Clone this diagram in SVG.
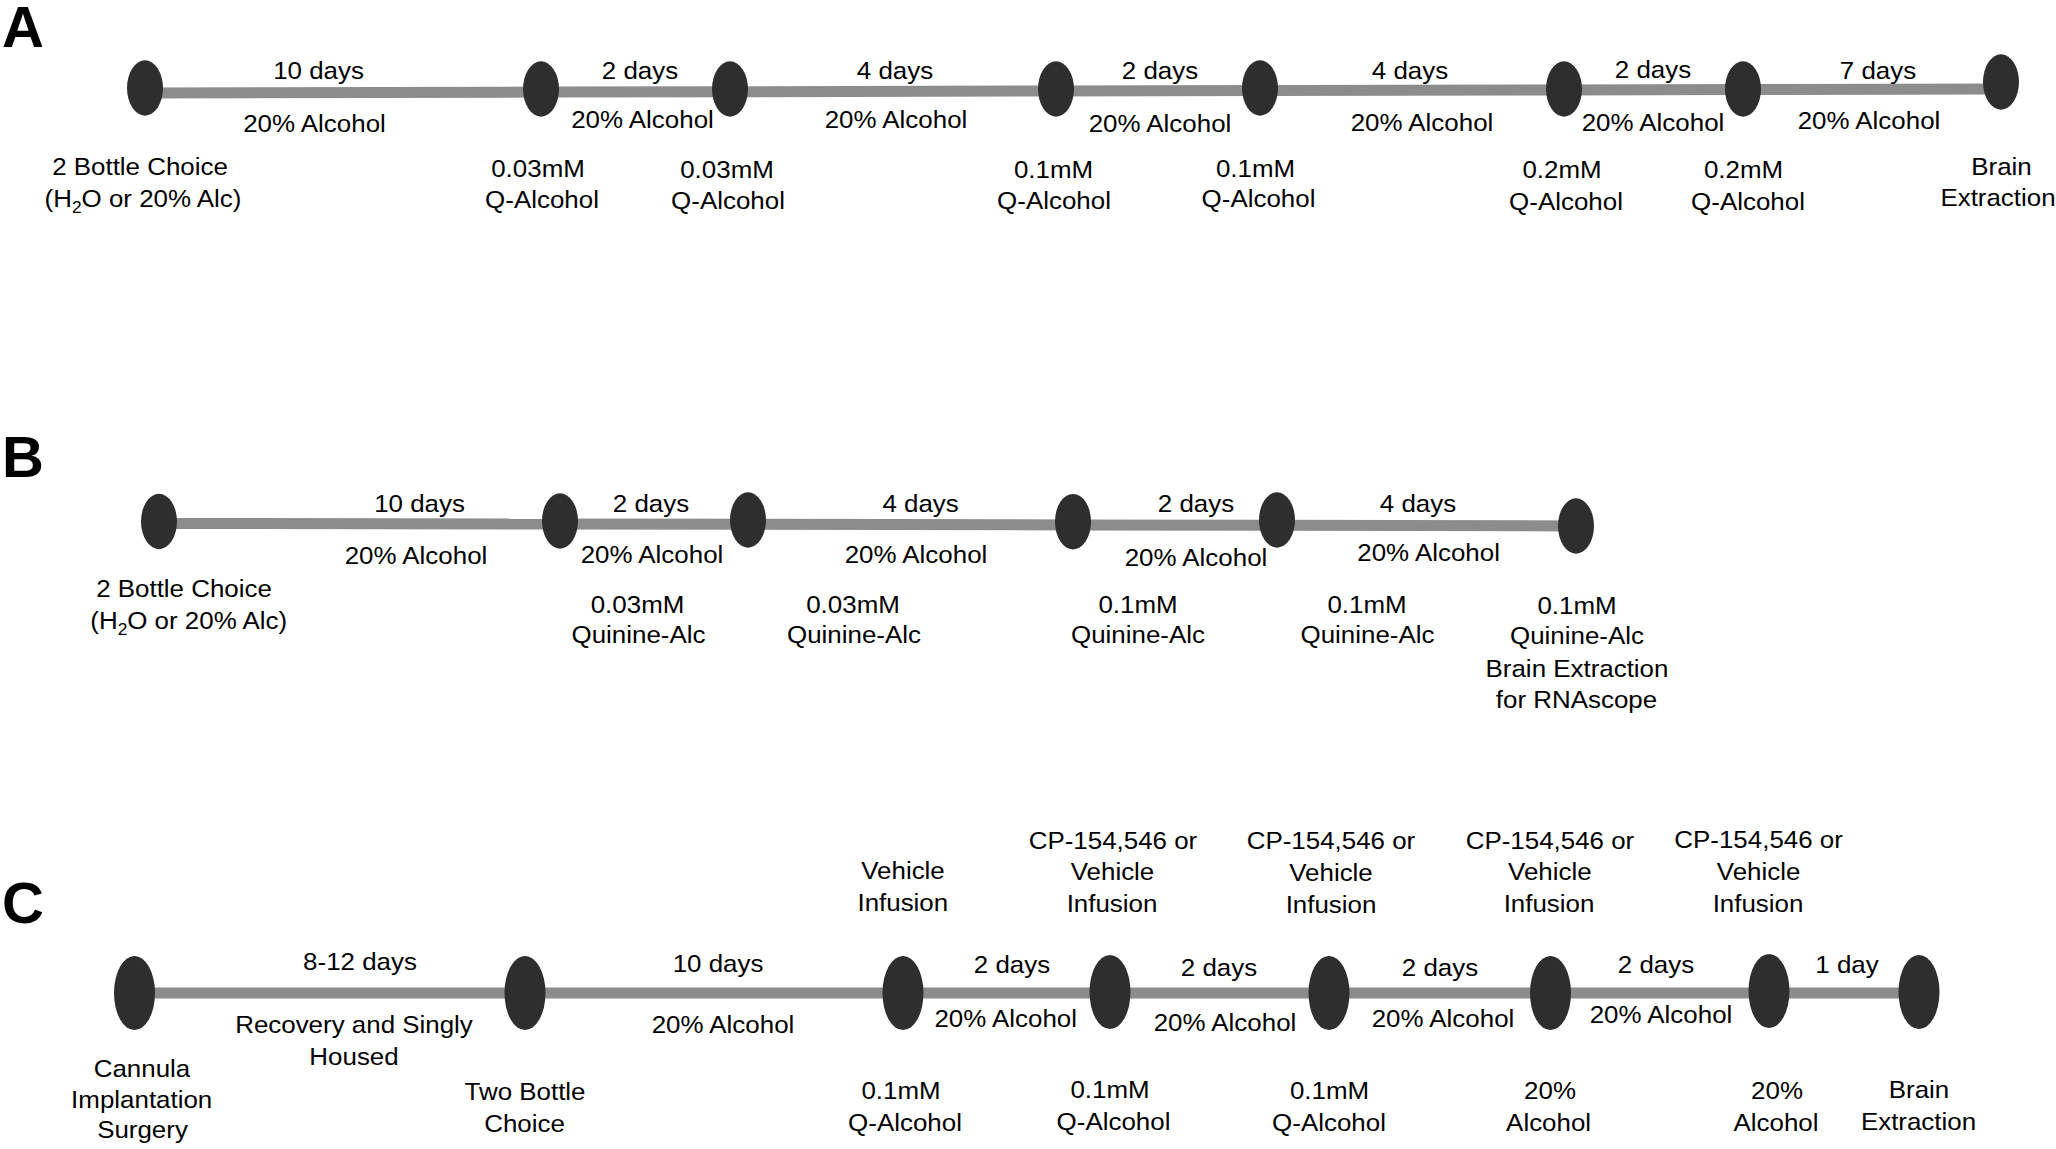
<svg xmlns="http://www.w3.org/2000/svg" width="2056" height="1149" viewBox="0 0 2056 1149">
<style>
.t{font-family:"Liberation Sans",Arial,Helvetica,sans-serif;font-size:24px;fill:#000;text-anchor:middle}
.sub{font-size:16px}
.lbl{font-family:"Liberation Sans",Arial,Helvetica,sans-serif;font-size:58px;font-weight:bold;fill:#000}
.n{fill:#2e2e2e}
.e{stroke:#8c8c8c;stroke-width:11;fill:none}
</style>
<rect width="2056" height="1149" fill="#fff"/>
<text class="lbl" x="2" y="47">A</text>
<text class="lbl" x="2" y="477">B</text>
<text class="lbl" x="2" y="923">C</text>

<g id="connectors">
<g id="edgesA">
<line class="e" x1="145" y1="93" x2="541" y2="92.1"/>
<line class="e" x1="541" y1="92.1" x2="730" y2="91.7"/>
<line class="e" x1="730" y1="91.7" x2="1056" y2="91"/>
<line class="e" x1="1056" y1="91" x2="1260" y2="90.6"/>
<line class="e" x1="1260" y1="90.6" x2="1564" y2="89.9"/>
<line class="e" x1="1564" y1="89.9" x2="1743" y2="89.6"/>
<line class="e" x1="1743" y1="89.6" x2="2001" y2="89"/>
</g>
<g id="edgesB">
<line class="e" x1="159" y1="523.5" x2="560" y2="524"/>
<line class="e" x1="560" y1="524" x2="748" y2="524.2"/>
<line class="e" x1="748" y1="524.2" x2="1073" y2="524.9"/>
<line class="e" x1="1073" y1="524.9" x2="1277" y2="525.2"/>
<line class="e" x1="1277" y1="525.2" x2="1576" y2="526"/>
</g>
<g id="edgesC">
<line class="e" x1="134.5" y1="993" x2="525" y2="993"/>
<line class="e" x1="525" y1="993" x2="903" y2="993"/>
<line class="e" x1="903" y1="993" x2="1110" y2="993"/>
<line class="e" x1="1110" y1="993" x2="1329" y2="993"/>
<line class="e" x1="1329" y1="993" x2="1550.5" y2="993"/>
<line class="e" x1="1550.5" y1="993" x2="1769" y2="993"/>
<line class="e" x1="1769" y1="993" x2="1919" y2="993"/>
</g>
</g>

<g id="edgeLabels">
<text class="t" transform="translate(318.5 79) scale(1.08 1)">10 days</text>
<text class="t" transform="translate(640 79) scale(1.08 1)">2 days</text>
<text class="t" transform="translate(895 79) scale(1.08 1)">4 days</text>
<text class="t" transform="translate(1160 79) scale(1.08 1)">2 days</text>
<text class="t" transform="translate(1410 79) scale(1.08 1)">4 days</text>
<text class="t" transform="translate(1653 78) scale(1.08 1)">2 days</text>
<text class="t" transform="translate(1878 79) scale(1.08 1)">7 days</text>
<text class="t" transform="translate(314.5 132) scale(1.08 1)">20% Alcohol</text>
<text class="t" transform="translate(642.5 128) scale(1.08 1)">20% Alcohol</text>
<text class="t" transform="translate(896 128) scale(1.08 1)">20% Alcohol</text>
<text class="t" transform="translate(1160 132) scale(1.08 1)">20% Alcohol</text>
<text class="t" transform="translate(1422 131) scale(1.08 1)">20% Alcohol</text>
<text class="t" transform="translate(1653 131) scale(1.08 1)">20% Alcohol</text>
<text class="t" transform="translate(1869 129) scale(1.08 1)">20% Alcohol</text>

<text class="t" transform="translate(419.5 512) scale(1.08 1)">10 days</text>
<text class="t" transform="translate(651 512) scale(1.08 1)">2 days</text>
<text class="t" transform="translate(920.6 512) scale(1.08 1)">4 days</text>
<text class="t" transform="translate(1196 512) scale(1.08 1)">2 days</text>
<text class="t" transform="translate(1418 512) scale(1.08 1)">4 days</text>
<text class="t" transform="translate(416 564) scale(1.08 1)">20% Alcohol</text>
<text class="t" transform="translate(652 563) scale(1.08 1)">20% Alcohol</text>
<text class="t" transform="translate(916 563) scale(1.08 1)">20% Alcohol</text>
<text class="t" transform="translate(1196 566) scale(1.08 1)">20% Alcohol</text>
<text class="t" transform="translate(1428.6 561) scale(1.08 1)">20% Alcohol</text>

<text class="t" transform="translate(360 969.5) scale(1.08 1)">8-12 days</text>
<text class="t" transform="translate(718 971.5) scale(1.08 1)">10 days</text>
<text class="t" transform="translate(1012 972.7) scale(1.08 1)">2 days</text>
<text class="t" transform="translate(1219 976) scale(1.08 1)">2 days</text>
<text class="t" transform="translate(1440 976) scale(1.08 1)">2 days</text>
<text class="t" transform="translate(1656 973) scale(1.08 1)">2 days</text>
<text class="t" transform="translate(1847 973) scale(1.08 1)">1 day</text>
<text class="t" transform="translate(354 1032.7) scale(1.08 1)">Recovery and Singly</text>
<text class="t" transform="translate(354 1065) scale(1.08 1)">Housed</text>
<text class="t" transform="translate(723 1033) scale(1.08 1)">20% Alcohol</text>
<text class="t" transform="translate(1005.7 1026.7) scale(1.08 1)">20% Alcohol</text>
<text class="t" transform="translate(1225 1031) scale(1.08 1)">20% Alcohol</text>
<text class="t" transform="translate(1443 1026.7) scale(1.08 1)">20% Alcohol</text>
<text class="t" transform="translate(1661 1023) scale(1.08 1)">20% Alcohol</text>
</g>

<g id="A1"><ellipse class="n" cx="145" cy="88" rx="18" ry="27.7"/>
<text class="t" transform="translate(140 175) scale(1.08 1)">2 Bottle Choice</text>
<text class="t" transform="translate(143 207) scale(1.08 1)">(H<tspan class="sub" dy="6">2</tspan><tspan dy="-6">O or 20% Alc)</tspan></text></g>
<g id="A2"><ellipse class="n" cx="541" cy="89" rx="18" ry="27.7"/>
<text class="t" transform="translate(538 177) scale(1.08 1)">0.03mM</text>
<text class="t" transform="translate(542 208) scale(1.08 1)">Q-Alcohol</text></g>
<g id="A3"><ellipse class="n" cx="730" cy="89" rx="18" ry="27.7"/>
<text class="t" transform="translate(727 178) scale(1.08 1)">0.03mM</text>
<text class="t" transform="translate(728 209) scale(1.08 1)">Q-Alcohol</text></g>
<g id="A4"><ellipse class="n" cx="1056" cy="89" rx="18" ry="27.7"/>
<text class="t" transform="translate(1053.5 178) scale(1.08 1)">0.1mM</text>
<text class="t" transform="translate(1054 209) scale(1.08 1)">Q-Alcohol</text></g>
<g id="A5"><ellipse class="n" cx="1260" cy="88" rx="18" ry="27.7"/>
<text class="t" transform="translate(1255.5 177) scale(1.08 1)">0.1mM</text>
<text class="t" transform="translate(1258.5 207) scale(1.08 1)">Q-Alcohol</text></g>
<g id="A6"><ellipse class="n" cx="1564" cy="89" rx="18" ry="27.7"/>
<text class="t" transform="translate(1562 178) scale(1.08 1)">0.2mM</text>
<text class="t" transform="translate(1566 210) scale(1.08 1)">Q-Alcohol</text></g>
<g id="A7"><ellipse class="n" cx="1743" cy="89" rx="18" ry="27.7"/>
<text class="t" transform="translate(1743.5 178) scale(1.08 1)">0.2mM</text>
<text class="t" transform="translate(1748 210) scale(1.08 1)">Q-Alcohol</text></g>
<g id="A8"><ellipse class="n" cx="2001" cy="82" rx="18" ry="27.7"/>
<text class="t" transform="translate(2001.5 175) scale(1.08 1)">Brain</text>
<text class="t" transform="translate(1998 206) scale(1.08 1)">Extraction</text></g>

<g id="B1"><ellipse class="n" cx="159" cy="521.5" rx="18" ry="27.7"/>
<text class="t" transform="translate(184 597) scale(1.08 1)">2 Bottle Choice</text>
<text class="t" transform="translate(188.7 629) scale(1.08 1)">(H<tspan class="sub" dy="6">2</tspan><tspan dy="-6">O or 20% Alc)</tspan></text></g>
<g id="B2"><ellipse class="n" cx="560" cy="521" rx="18" ry="27.7"/>
<text class="t" transform="translate(637.5 613) scale(1.08 1)">0.03mM</text>
<text class="t" transform="translate(638.5 643) scale(1.08 1)">Quinine-Alc</text></g>
<g id="B3"><ellipse class="n" cx="748" cy="520" rx="18" ry="27.7"/>
<text class="t" transform="translate(853 613) scale(1.08 1)">0.03mM</text>
<text class="t" transform="translate(854 643) scale(1.08 1)">Quinine-Alc</text></g>
<g id="B4"><ellipse class="n" cx="1073" cy="521.7" rx="18" ry="27.7"/>
<text class="t" transform="translate(1138 613) scale(1.08 1)">0.1mM</text>
<text class="t" transform="translate(1138 643) scale(1.08 1)">Quinine-Alc</text></g>
<g id="B5"><ellipse class="n" cx="1277" cy="520" rx="18" ry="27.7"/>
<text class="t" transform="translate(1367 613) scale(1.08 1)">0.1mM</text>
<text class="t" transform="translate(1367.5 643) scale(1.08 1)">Quinine-Alc</text></g>
<g id="B6"><ellipse class="n" cx="1576" cy="526" rx="18" ry="27.7"/>
<text class="t" transform="translate(1577 614) scale(1.08 1)">0.1mM</text>
<text class="t" transform="translate(1577 644) scale(1.08 1)">Quinine-Alc</text>
<text class="t" transform="translate(1577 677) scale(1.08 1)">Brain Extraction</text>
<text class="t" transform="translate(1576.5 708) scale(1.08 1)">for RNAscope</text></g>

<g id="C1"><ellipse class="n" cx="134.5" cy="993" rx="20.5" ry="37"/>
<text class="t" transform="translate(142 1076.7) scale(1.08 1)">Cannula</text>
<text class="t" transform="translate(141.7 1108.3) scale(1.08 1)">Implantation</text>
<text class="t" transform="translate(142.5 1138.3) scale(1.08 1)">Surgery</text></g>
<g id="C2"><ellipse class="n" cx="525" cy="993" rx="20.5" ry="37"/>
<text class="t" transform="translate(525 1100) scale(1.08 1)">Two Bottle</text>
<text class="t" transform="translate(524.5 1131.7) scale(1.08 1)">Choice</text></g>
<g id="C3"><ellipse class="n" cx="903" cy="993" rx="20.5" ry="37"/>
<text class="t" transform="translate(903 879) scale(1.08 1)">Vehicle</text>
<text class="t" transform="translate(902.8 910.7) scale(1.08 1)">Infusion</text>
<text class="t" transform="translate(901 1099.3) scale(1.08 1)">0.1mM</text>
<text class="t" transform="translate(905 1131) scale(1.08 1)">Q-Alcohol</text></g>
<g id="C4"><ellipse class="n" cx="1110" cy="992" rx="20.5" ry="37"/>
<text class="t" transform="translate(1113 849) scale(1.08 1)">CP-154,546 or</text>
<text class="t" transform="translate(1112.5 880) scale(1.08 1)">Vehicle</text>
<text class="t" transform="translate(1112 911.7) scale(1.08 1)">Infusion</text>
<text class="t" transform="translate(1110 1098) scale(1.08 1)">0.1mM</text>
<text class="t" transform="translate(1113.5 1130) scale(1.08 1)">Q-Alcohol</text></g>
<g id="C5"><ellipse class="n" cx="1329" cy="993" rx="20.5" ry="37"/>
<text class="t" transform="translate(1331 849.3) scale(1.08 1)">CP-154,546 or</text>
<text class="t" transform="translate(1331 881) scale(1.08 1)">Vehicle</text>
<text class="t" transform="translate(1331 912.7) scale(1.08 1)">Infusion</text>
<text class="t" transform="translate(1329.5 1099) scale(1.08 1)">0.1mM</text>
<text class="t" transform="translate(1329 1131) scale(1.08 1)">Q-Alcohol</text></g>
<g id="C6"><ellipse class="n" cx="1550.5" cy="993" rx="20.5" ry="37"/>
<text class="t" transform="translate(1550 849) scale(1.08 1)">CP-154,546 or</text>
<text class="t" transform="translate(1549.8 880) scale(1.08 1)">Vehicle</text>
<text class="t" transform="translate(1549 911.7) scale(1.08 1)">Infusion</text>
<text class="t" transform="translate(1550 1099) scale(1.08 1)">20%</text>
<text class="t" transform="translate(1548.6 1131) scale(1.08 1)">Alcohol</text></g>
<g id="C7"><ellipse class="n" cx="1769" cy="991" rx="20.5" ry="37"/>
<text class="t" transform="translate(1758.6 848) scale(1.08 1)">CP-154,546 or</text>
<text class="t" transform="translate(1758.6 880) scale(1.08 1)">Vehicle</text>
<text class="t" transform="translate(1758 911.7) scale(1.08 1)">Infusion</text>
<text class="t" transform="translate(1777 1099) scale(1.08 1)">20%</text>
<text class="t" transform="translate(1776 1131) scale(1.08 1)">Alcohol</text></g>
<g id="C8"><ellipse class="n" cx="1919" cy="992" rx="20.5" ry="37"/>
<text class="t" transform="translate(1919 1098) scale(1.08 1)">Brain</text>
<text class="t" transform="translate(1918.5 1130) scale(1.08 1)">Extraction</text></g>
</svg>
